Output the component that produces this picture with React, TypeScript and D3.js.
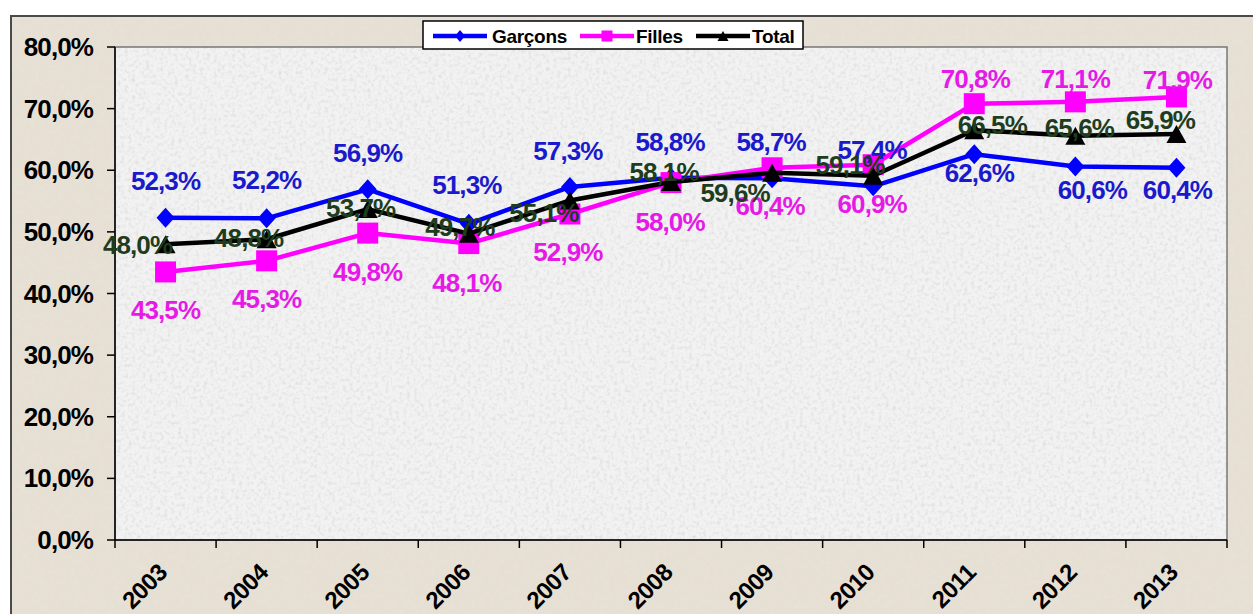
import React from 'react';
import * as d3 from 'd3';

const years = ['2003', '2004', '2005', '2006', '2007', '2008', '2009', '2010', '2011', '2012', '2013'];
const garcons = [52.3, 52.2, 56.9, 51.3, 57.3, 58.8, 58.7, 57.4, 62.6, 60.6, 60.4];
const filles = [43.5, 45.3, 49.8, 48.1, 52.9, 58.0, 60.4, 60.9, 70.8, 71.1, 71.9];
const total = [48.0, 48.8, 53.7, 49.7, 55.1, 58.1, 59.6, 59.1, 66.5, 65.6, 65.9];
const yTicks = [0, 10, 20, 30, 40, 50, 60, 70, 80];
const seriesNames = ['Garçons', 'Filles', 'Total'];

// label layout (offsets of label centre from the point, px)
const gLabelDx = [0, 0, 0, -2, -2, -1, -1, -1, 5, 17, 1];
const gLabelDy = [-37, -39, -37, -39, -36, -36, -37, -37, 18, 23, 22];
const fLabelDx = [0, 0, 0, -2, -2, -1, -2, -1, 1, 0, 1];
const fLabelDy = [38, 38, 39, 39, 38, 39, 38, 39, -25, -23, -17];
const tLabelDx = [-28, -18, -7, -9, -26, -7, -37, -23, 18, 4, -16];
const tLabelDy = [0, -2, -1, -7, 12, -10, 20, -11, -6, -8, -14];

const W = 1253;
const H = 614;
const M = { left: 115, right: 1227, top: 47, bottom: 540 };

const fmt = (v: number) => d3.format('.1f')(v).replace('.', ',') + '%';

const BLUE = '#0000ff';
const MAG = '#ff00ff';
const BLK = '#000000';
const BLUE_T = '#1a1acc';
const MAG_T = '#e619e6';
const GRN_T = '#1e3d1e';
const FONT = '"Liberation Sans", Arial, sans-serif';

function diamond(cx: number, cy: number, hw: number, hh: number) {
  return `M${cx},${cy - hh}L${cx + hw},${cy}L${cx},${cy + hh}L${cx - hw},${cy}Z`;
}
function square(cx: number, cy: number, h: number) {
  return `M${cx - h},${cy - h}H${cx + h}V${cy + h}H${cx - h}Z`;
}
function triangle(cx: number, cy: number, hw: number, hh: number) {
  return `M${cx},${cy - hh}L${cx + hw},${cy + hh}L${cx - hw},${cy + hh}Z`;
}

export default function App() {
  const x = d3.scaleBand<string>().domain(years).range([M.left, M.right]);
  const y = d3.scaleLinear().domain([0, 80]).range([M.bottom, M.top]);
  const cx = (i: number) => (x(years[i]) as number) + x.bandwidth() / 2;

  const line = d3
    .line<number>()
    .x((_, i) => cx(i))
    .y((d) => y(d));

  const boundaries = years.map((yr) => x(yr) as number).concat([M.right]);

  const labelStyle = { fontFamily: FONT, fontWeight: 700, fontSize: 26, letterSpacing: -0.9 } as const;

  return (
    <svg width={W} height={H} style={{ position: 'absolute', left: 0, top: 0 }} xmlns="http://www.w3.org/2000/svg">
      <defs>
        <filter id="noiseGray" x="0" y="0" width="100%" height="100%">
          <feTurbulence type="fractalNoise" baseFrequency="0.28" numOctaves="3" seed="4" result="t" />
          <feColorMatrix in="t" type="matrix" values="0 0 0 0 0.74  0 0 0 0 0.74  0 0 0 0 0.74  2.2 0 0 0 -0.98" />
        </filter>
        <filter id="noiseBeige" x="0" y="0" width="100%" height="100%">
          <feTurbulence type="fractalNoise" baseFrequency="0.2" numOctaves="3" seed="9" result="t" />
          <feColorMatrix in="t" type="matrix" values="0 0 0 0 0.82  0 0 0 0 0.76  0 0 0 0 0.67  2.0 0 0 0 -0.9" />
        </filter>
      </defs>

      <rect x={0} y={0} width={W} height={H} fill="#ffffff" />
      {/* outer chart area */}
      <rect x={11} y={16} width={W} height={H} fill="#e6dfd4" />
      <rect x={11} y={16} width={W} height={H} filter="url(#noiseBeige)" />
      <rect x={11} y={16} width={W + 20} height={H + 20} fill="none" stroke="#4a4a4a" strokeWidth={2} />

      {/* plot area */}
      <rect x={M.left} y={M.top} width={M.right - M.left} height={M.bottom - M.top} fill="#f2f2f2" />
      <rect x={M.left} y={M.top} width={M.right - M.left} height={M.bottom - M.top} filter="url(#noiseGray)" />
      <rect x={M.left} y={M.top} width={M.right - M.left} height={M.bottom - M.top} fill="none" stroke="#777" strokeWidth={1.5} />

      {/* y axis */}
      <line x1={M.left} x2={M.left} y1={M.top} y2={M.bottom} stroke="#000" strokeWidth={1.5} />
      {yTicks.map((t) => (
        <g key={t}>
          <line x1={M.left - 8} x2={M.left} y1={y(t)} y2={y(t)} stroke="#000" strokeWidth={1.5} />
          <text x={93} y={y(t)} dy="0.35em" textAnchor="end" fill="#000" {...labelStyle}>
            {fmt(t)}
          </text>
        </g>
      ))}

      {/* x axis */}
      <line x1={M.left} x2={M.right} y1={M.bottom} y2={M.bottom} stroke="#000" strokeWidth={1.5} />
      {boundaries.map((b, i) => (
        <line key={i} x1={b} x2={b} y1={M.bottom} y2={M.bottom + 8} stroke="#000" strokeWidth={1.5} />
      ))}
      {years.map((yr, i) => (
        <text
          key={yr}
          transform={`translate(${cx(i) + 3},${574}) rotate(-45)`}
          textAnchor="end"
          fill="#000"
          {...labelStyle}
          fontSize={24}
          letterSpacing={-0.5}
        >
          {yr}
        </text>
      ))}

      {/* lines */}
      <path d={line(garcons) || ''} fill="none" stroke={BLUE} strokeWidth={4.5} strokeLinejoin="round" />
      {garcons.map((v, i) => (
        <path key={'gm' + i} d={diamond(cx(i), y(v), 9, 10)} fill={BLUE} />
      ))}
      <path d={line(filles) || ''} fill="none" stroke={MAG} strokeWidth={4.5} strokeLinejoin="round" />
      {filles.map((v, i) => (
        <path key={'fm' + i} d={square(cx(i), y(v), 10.5)} fill={MAG} />
      ))}
      <path d={line(total) || ''} fill="none" stroke={BLK} strokeWidth={4.5} strokeLinejoin="round" />
      {total.map((v, i) => (
        <path key={'tm' + i} d={triangle(cx(i), y(v), 10, 9)} fill={BLK} />
      ))}

      {/* data labels */}
      {garcons.map((v, i) => (
        <text key={'gl' + i} x={cx(i) + gLabelDx[i]} y={y(v) + gLabelDy[i]} dy="0.36em" textAnchor="middle" fill={BLUE_T} {...labelStyle}>
          {fmt(v)}
        </text>
      ))}
      {filles.map((v, i) => (
        <text key={'fl' + i} x={cx(i) + fLabelDx[i]} y={y(v) + fLabelDy[i]} dy="0.36em" textAnchor="middle" fill={MAG_T} {...labelStyle}>
          {fmt(v)}
        </text>
      ))}
      {total.map((v, i) => (
        <text key={'tl' + i} x={cx(i) + tLabelDx[i]} y={y(v) + tLabelDy[i]} dy="0.36em" textAnchor="middle" fill={GRN_T} {...labelStyle}>
          {fmt(v)}
        </text>
      ))}

      {/* legend */}
      <rect x={423} y={21} width={380} height={28} fill="#ffffff" stroke="#000" strokeWidth={1.5} />
      {[
        { name: seriesNames[0], color: BLUE, x0: 433, tx: 492, mk: (c: number) => diamond(c, 36, 5, 6) },
        { name: seriesNames[1], color: MAG, x0: 580, tx: 636, mk: (c: number) => square(c, 36, 5.5) },
        { name: seriesNames[2], color: BLK, x0: 696, tx: 752, mk: (c: number) => triangle(c, 36, 5.5, 5) },
      ].map((e) => (
        <g key={e.name}>
          <line x1={e.x0} x2={e.x0 + 54} y1={36} y2={36} stroke={e.color} strokeWidth={4.5} />
          <path d={e.mk(e.x0 + 27)} fill={e.color} />
          <text x={e.tx} y={36} dy="0.36em" fill="#000" fontFamily={FONT} fontWeight={700} fontSize={19} letterSpacing={-0.3}>
            {e.name}
          </text>
        </g>
      ))}
    </svg>
  );
}
